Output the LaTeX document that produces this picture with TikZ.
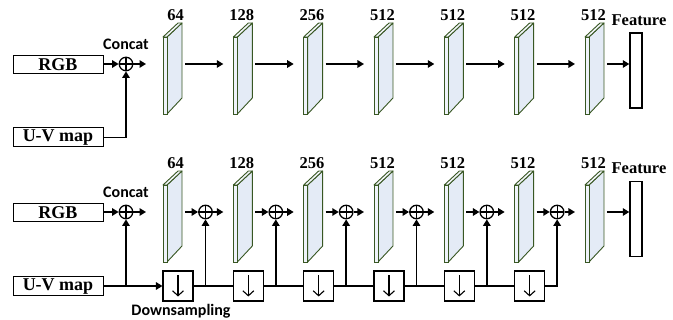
\documentclass[tikz,border=0pt]{standalone}
\usepackage{fontspec}
\setmainfont{Liberation Serif}
\newfontfamily\labelsans{Carlito}
\usetikzlibrary{arrows.meta}

\definecolor{slabgreen}{RGB}{56,87,35}
\definecolor{slabfill}{RGB}{228,235,246}

\tikzset{
  conn/.style={line width=1.5pt},
  arr/.style={conn,-{Triangle[length=6.5pt,width=7.5pt]}},
  inbox/.style={draw, line width=1pt, minimum width=90pt, minimum height=18pt,
    inner sep=0pt, font=\fontsize{18}{18}\selectfont\bfseries},
  sumnode/.style={circle, draw, line width=1.3pt, minimum size=13.5pt, inner sep=0pt,
    path picture={\draw[line width=1.2pt]
      (path picture bounding box.north) -- (path picture bounding box.south)
      (path picture bounding box.west) -- (path picture bounding box.east);}},
  dsbox/.style={draw, line width=1.1pt, minimum size=30pt, inner sep=0pt},
  dsarrow/.style={line width=1.1pt, -{Straight Barb[length=5pt,width=11pt,line width=1.1pt]}},
  featbox/.style={draw, line width=1.4pt, minimum width=12pt, minimum height=75pt, inner sep=0pt},
  chan/.style={font=\fontsize{16.5}{17}\selectfont\bfseries},
  sanslabel/.style={font=\labelsans\fontsize{16}{17}\selectfont\bfseries},
  % a thin feature-map slab: front face, slanted side and top faces
  pics/slab/.style={code={
    \draw[slabgreen, line width=0.9pt, fill=slabfill, line join=round]
      (4,0) -- (19,-14) -- (19,61) -- (4,77) -- cycle;
    \draw[slabgreen, line width=0.9pt, fill=slabfill!40!white, line join=round]
      (0,0) -- (15,-14) -- (19,-14) -- (4,0) -- cycle;
    \draw[slabgreen, line width=0.9pt, fill=slabfill!60!white] (0,0) rectangle (4,77);
    \coordinate (-in) at (-10,27);
    \coordinate (-out) at (22,27);
    \node[chan, anchor=base east, inner sep=0pt] (-lab) at (21,-16) {#1};
  }}
}

\begin{document}
\begin{tikzpicture}[x=1pt, y=-1pt]
\useasboundingbox (0,0) rectangle (673,320);

% ---------------- upper branch: concatenation at the input ----------------
\node[inbox] (rgb1) at (58,65) {RGB};
\node[inbox, minimum height=19pt] (uv1) at (58,137.5) {U-V map};
\node[sumnode] (c1) at (126,64) {};
\node[sanslabel, anchor=base] (cat1) at (126,49.5) {Concat};
\coordinate (o1) at (146,64);

\foreach \i/\lab in {1/64,2/128,3/256,4/512,5/512,6/512,7/512}
  \pic (t\i) at ({163+70.33*(\i-1)},37) {slab=\lab};

\node[featbox] (feat1) at (636,70.5) {};
\node[chan, anchor=base] (fl1) at (639,26) {Feature};

\draw[arr] (rgb1.east |- c1) -- (c1.west);
\draw[arr] (c1.east) -- (o1);
\draw[arr] (uv1.east) -| (c1.south);
\foreach \i [evaluate=\i as \n using int(\i+1)] in {1,...,6}
  \draw[arr] (t\i-out) -- (t\n-in);
\draw[arr] (t7-out) -- (t7-out -| feat1.west);

% ---------------- lower branch: U-V map fused at every stage ----------------
\node[inbox] (rgb2) at (58,213) {RGB};
\node[inbox, minimum height=19pt] (uv2) at (58,286.5) {U-V map};
\node[sumnode] (s1) at (126,212) {};
\node[sanslabel, anchor=base] (cat2) at (126,198) {Concat};
\coordinate (o2) at (146,212);

\foreach \i/\lab in {1/64,2/128,3/256,4/512,5/512,6/512,7/512}
  \pic (b\i) at ({163+70.33*(\i-1)},185) {slab=\lab};

\foreach \j in {2,...,7}
  \node[sumnode] (s\j) at ({163+70.33*(\j-2)+42.5},212) {};

% downsampling blocks, each marked with a down arrow
\foreach \i in {1,...,6} {
  \node[dsbox] (d\i) at ({163+70.33*(\i-1)+15},286) {};
  \draw[dsarrow] ([yshift=10.5pt]d\i.center) -- ([yshift=-10.5pt]d\i.center);
}
\node[sanslabel, anchor=base] (dslab) at (181,316) {Downsampling};

\node[featbox] (feat2) at (636,219) {};
\node[chan, anchor=base] (fl2) at (639,174) {Feature};

\draw[arr] (rgb2.east |- s1) -- (s1.west);
\draw[arr] (s1.east) -- (o2);
\draw[arr] (uv2.east |- d1) -- (d1.west);
\draw[arr] (s1 |- d1) -- (s1.south);

\foreach \i [evaluate=\i as \n using int(\i+1)] in {1,...,6} {
  \draw[arr] (b\i-out) -- (s\n.west);
  \draw[arr] (s\n.east) -- (b\n-in);
}
\foreach \i [evaluate=\i as \n using int(\i+1)] in {1,...,5} {
  \draw[conn] (d\i.east) -- (d\n.west);
  \draw[arr] (s\n |- d\i) -- (s\n.south);
}
\draw[arr] (d6.east) -| (s7.south);
\draw[arr] (b7-out) -- (b7-out -| feat2.west);

\end{tikzpicture}
\end{document}
